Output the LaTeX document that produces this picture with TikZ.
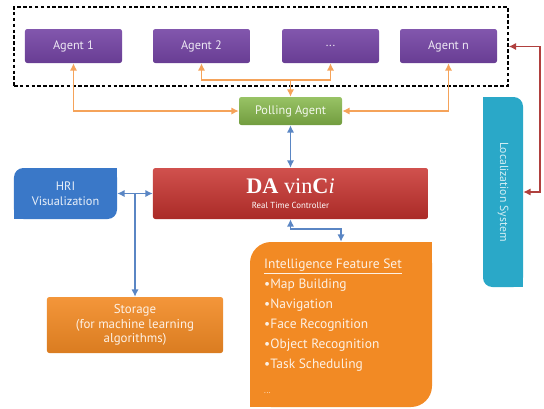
\documentclass[tikz,border=0pt]{standalone}
\usepackage{fontspec}
\setmainfont{PT Sans}
\usepackage{tikz}
\usetikzlibrary{positioning,arrows.meta}

\definecolor{agentpurple}{HTML}{7444A4}
\definecolor{pollgreen}{HTML}{86B84A}
\definecolor{ctrlred}{HTML}{C8322E}
\definecolor{hriblue}{HTML}{3A78C8}
\definecolor{featorange}{HTML}{F28A24}
\definecolor{locteal}{HTML}{2AA8C8}
\definecolor{linkorange}{HTML}{F5A35A}
\definecolor{linkblue}{HTML}{5A86C4}
\definecolor{linkred}{HTML}{B0403E}

\tikzset{
  agentbox/.style={rounded corners=2pt, top color=agentpurple!90!white, bottom color=agentpurple!90!black,
    text=white!88!agentpurple, font=\fontsize{10.5}{12}\selectfont, minimum width=2.91cm, minimum height=1.02cm},
  orangelink/.style={linkorange, line width=1.6pt},
  bluelink/.style={linkblue, line width=1.4pt},
  redlink/.style={linkred, line width=1.3pt},
  twoway/.style={{Latex[length=2.2mm,width=2.2mm]}-{Latex[length=2.2mm,width=2.2mm]}},
  oneway/.style={-{Latex[length=2.2mm,width=2.2mm]}}
}

\begin{document}
\begin{tikzpicture}[x=0.03cm, y=-0.03cm]
\useasboundingbox (0,0) rectangle (544,408);
% agents in the dashed group
\node[draw, dash pattern=on 3pt off 2pt, line width=1.2pt, minimum width=14.82cm, minimum height=2.37cm] (group) at (261,46.5) {};
\node[agentbox] (a1) at (73.5,46) {Agent 1};
\node[agentbox] (a2) at (201.5,46) {Agent 2};
\node[agentbox] (adots) at (330.5,46) {...};
\node[agentbox] (an) at (448.5,46) {Agent n};
\node[rounded corners=2pt, top color=pollgreen!85!white, bottom color=pollgreen!85!black, text=white!90!pollgreen,
  font=\fontsize{10.5}{12}\selectfont, minimum width=3.09cm, minimum height=0.84cm] (poll) at (290.5,111) {Polling Agent};
\coordinate (pjoin) at (290.5,80);
\draw[orangelink, twoway] (a1.south) |- (poll.west);
\draw[orangelink, twoway] (an.south) |- (poll.east);
\draw[orangelink, twoway] (a2.south) |- (pjoin) -| (adots.south);
\draw[orangelink, oneway] (pjoin) -- (poll.north);
% controller row
\node[rounded corners=2pt, top color=ctrlred!85!white, bottom color=ctrlred!85!black,
  minimum width=8.25cm, minimum height=1.53cm, align=center, text=white] (ctrl) at (290.5,193.5)
  {{\fontspec{Liberation Serif}\fontsize{19}{20}\selectfont\textbf{DA} vin\textbf{C}\textit{i}}\\[1pt]
   {\fontsize{7.5}{9}\selectfont Real Time Controller}};
\node[fill=hriblue, rounded corners=8pt, minimum width=3.09cm, minimum height=1.53cm, align=center,
  text=white!90!hriblue, font=\fontsize{10.5}{13}\selectfont] (hri) at (65.5,193.5) {HRI\\Visualization};
\fill[hriblue] (hri.north east) rectangle ++(-10,10);
\fill[hriblue] (hri.south west) rectangle ++(10,-10);
\node[rounded corners=2pt, top color=featorange!90!white, bottom color=featorange!90!black, minimum width=5.28cm,
  minimum height=1.68cm, align=center, text=white!88!featorange, font=\fontsize{11}{12.5}\selectfont] (store) at (135,325)
  {Storage\\(for machine learning\\algorithms)};
\coordinate (tap) at (hri.east -| store.north);
\draw[bluelink, twoway] (poll.south) -- (ctrl.north);
\draw[bluelink, twoway] (hri.east) -- (ctrl.west);
\draw[bluelink, oneway] (tap) -- (store.north);
% feature set
\node[fill=featorange, rounded corners=18pt, minimum width=5.46cm, minimum height=4.95cm] (intel) at (341,324.5) {};
\fill[featorange] (intel.north east) rectangle ++(-25,25);
\fill[featorange] (intel.south west) rectangle ++(25,-25);
\node[anchor=north west, align=left, text=white!88!featorange, font=\fontsize{11.5}{17}\selectfont, inner sep=0pt]
  (intellist) at (264,259)
  {\underline{Intelligence Feature Set}\\•Map Building\\•Navigation\\•Face Recognition\\•Object Recognition\\•Task Scheduling\\[4pt]
   {\fontsize{7}{8}\selectfont ...}};
\draw[bluelink, twoway] (ctrl.south) -- ++(0,10) -| (intel.north);
% localization
\node[fill=locteal, rounded corners=8pt, minimum width=1.2cm, minimum height=5.7cm] (loc) at (503,192) {};
\fill[locteal] (loc.north west) rectangle ++(10,10);
\fill[locteal] (loc.south east) rectangle ++(-10,-10);
\node[rotate=-90, text=white!80!locteal, font=\fontsize{10}{12}\selectfont] (loctext) at (loc) {Localization System};
\draw[redlink, twoway] (loc.east) -- ++(17,0) |- (group.east);
\end{tikzpicture}
\end{document}
